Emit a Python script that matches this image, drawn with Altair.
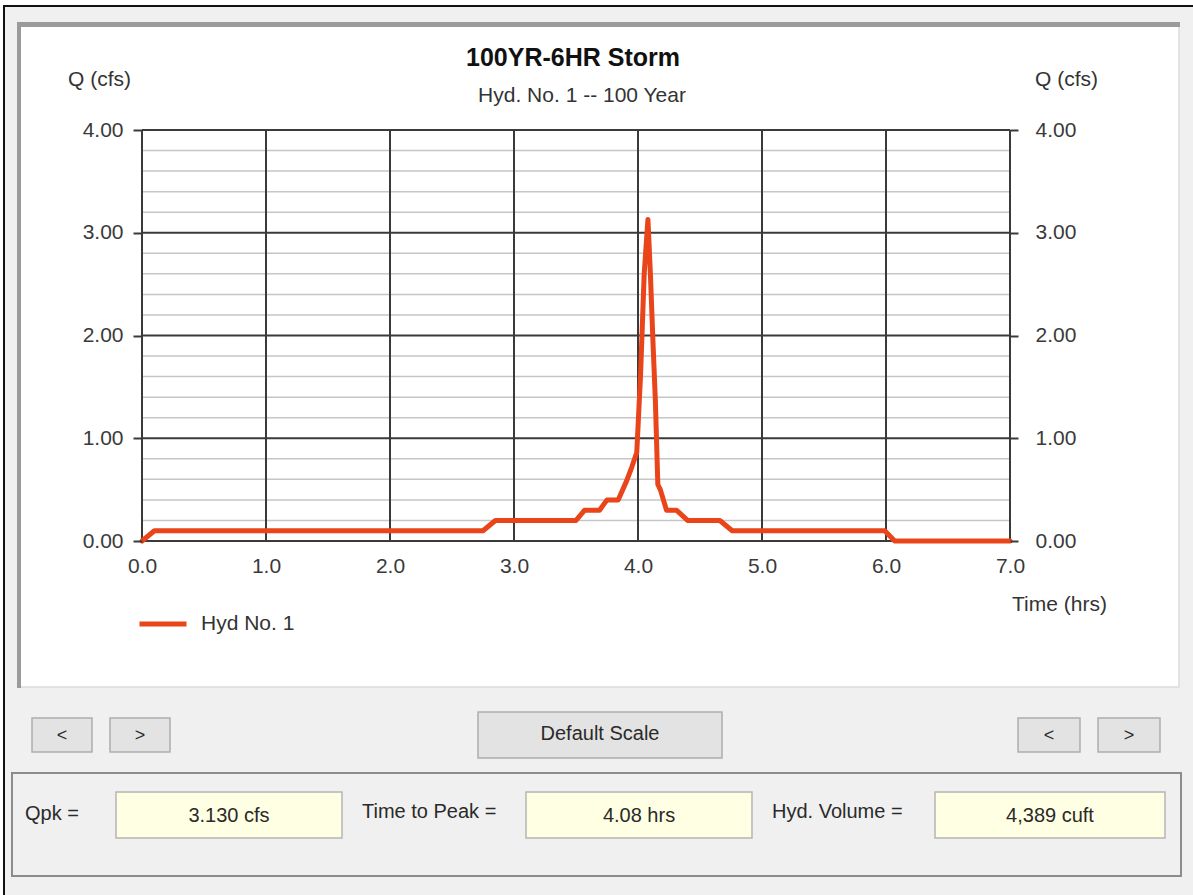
import altair as alt
import pandas as pd

# Hydrograph ordinates (time in hours, flow in cfs)
time_hrs = [0.00, 0.10, 2.75, 2.85, 3.50, 3.57, 3.69, 3.75, 3.84, 3.91, 3.95, 3.99,
            4.02, 4.05, 4.08, 4.10, 4.12, 4.14, 4.16, 4.18, 4.23, 4.31, 4.40, 4.66,
            4.76, 5.99, 6.07, 7.00]
flow_cfs = [0.00, 0.10, 0.10, 0.20, 0.20, 0.30, 0.30, 0.40, 0.40, 0.59, 0.72, 0.86,
            1.60, 2.60, 3.13, 2.60, 1.96, 1.37, 0.55, 0.50, 0.30, 0.30, 0.20, 0.20,
            0.10, 0.10, 0.00, 0.00]
series_name = "Hyd No. 1"

# Axis tick values
time_ticks = [0, 1, 2, 3, 4, 5, 6, 7]
flow_major = [0, 1, 2, 3, 4]
flow_minor = [0.2, 0.4, 0.6, 0.8, 1.2, 1.4, 1.6, 1.8, 2.2, 2.4, 2.6, 2.8,
              3.2, 3.4, 3.6, 3.8]

# Summary read-outs
summary_labels = ["Qpk =", "Time to Peak =", "Hyd. Volume ="]
summary_values = ["3.130 cfs", "4.08 hrs", "4,389 cuft"]

FONT = "Liberation Sans"
LINE_COLOR = "#E9441A"
W, H = 868, 411          # plot area
OX, OY = 142, 130        # plot origin on the page

xscale = alt.Scale(domain=[0, 7], nice=False, zero=False)
yscale = alt.Scale(domain=[0, 4], nice=False, zero=False)

one = alt.Data(values=[{"k": 0}])


def box(x1, y1, x2, y2, **kw):
    return alt.Chart(one).mark_rect(**kw).encode(
        x=alt.value(x1 - OX), x2=alt.value(x2 - OX),
        y=alt.value(y1 - OY), y2=alt.value(y2 - OY))


def label(txt, x, y, **kw):
    opts = dict(font=FONT, fontSize=21, color="#2a2a2a", baseline="middle")
    opts.update(kw)
    return alt.Chart(one).mark_text(text=txt, **opts).encode(
        x=alt.value(x - OX), y=alt.value(y - OY))


# Window frame and panels
frame = [
    box(4, 6, 1200, 900, fill="#f0f0f0", stroke="#111111", strokeWidth=2),
    box(19, 24, 1179, 687, fill="#ffffff", stroke="#dcdcdc", strokeWidth=1.5),
    box(17, 22, 1180, 27, fill="#9a9a9a"),
    box(17, 22, 21, 688, fill="#9a9a9a"),
    # buttons
    box(32, 718, 92, 752, fill="#e3e3e3", stroke="#adadad", strokeWidth=1.5),
    box(110, 718, 170, 752, fill="#e3e3e3", stroke="#adadad", strokeWidth=1.5),
    box(478, 712, 722, 758, fill="#e3e3e3", stroke="#adadad", strokeWidth=1.5),
    box(1018, 718, 1080, 752, fill="#e3e3e3", stroke="#adadad", strokeWidth=1.5),
    box(1098, 718, 1160, 752, fill="#e3e3e3", stroke="#adadad", strokeWidth=1.5),
    # summary group box
    box(12, 773, 1181, 876, fill="#f0f0f0", stroke="#8c8c8c", strokeWidth=2),
    box(116, 792, 342, 838, fill="#ffffe3", stroke="#b5b5b5", strokeWidth=1.5),
    box(526, 792, 752, 838, fill="#ffffe3", stroke="#b5b5b5", strokeWidth=1.5),
    box(935, 792, 1165, 838, fill="#ffffe3", stroke="#b5b5b5", strokeWidth=1.5),
]

texts = [
    label("100YR-6HR Storm", 573, 58, fontSize=25, fontWeight="bold",
          color="#111111", align="center"),
    label("Hyd. No. 1 -- 100 Year", 582, 96, fontSize=21, align="center",
          color="#333333"),
    label("Q (cfs)", 68, 80, align="left", fontSize=21, color="#333333"),
    label("Q (cfs)", 1035, 80, align="left", fontSize=21, color="#333333"),
    label("Time (hrs)", 1012, 605, align="left", fontSize=21, color="#333333"),
    label("<", 62, 736, align="center", fontSize=18),
    label(">", 140, 736, align="center", fontSize=18),
    label("Default Scale", 600, 734, align="center", fontSize=20),
    label("<", 1049, 736, align="center", fontSize=18),
    label(">", 1129, 736, align="center", fontSize=18),
    label(summary_labels[0], 25, 814, align="left", fontSize=20),
    label(summary_labels[1], 362, 812, align="left", fontSize=20),
    label(summary_labels[2], 772, 812, align="left", fontSize=20),
    label(summary_values[0], 229, 816, align="center", fontSize=20),
    label(summary_values[1], 639, 816, align="center", fontSize=20),
    label(summary_values[2], 1050, 816, align="center", fontSize=20),
]

time_axis = alt.Axis(values=time_ticks, format=".1f", title=None,
                     grid=False, domain=False, ticks=False, zindex=1,
                     labelFlush=False, labelPadding=14, labelFont=FONT,
                     labelFontSize=21, labelColor="#3a3a3a")

# Grid lines
minor_grid = alt.Chart(pd.DataFrame({"q": flow_minor})).mark_rule(
    color="#c6c6c6", strokeWidth=1.5).encode(
    y=alt.Y("q:Q", scale=yscale, axis=None))

major_grid = alt.Chart(pd.DataFrame({"q": flow_major})).mark_rule(
    color="#3a3a3a", strokeWidth=2).encode(
    y=alt.Y("q:Q", scale=yscale,
            axis=alt.Axis(orient="right", values=flow_major, format=".2f",
                          title=None, grid=False, domain=False, zindex=1,
                          tickSize=8, tickWidth=2, tickColor="#3a3a3a",
                          labelFlush=False, labelPadding=17, labelFont=FONT,
                          labelFontSize=21, labelColor="#3a3a3a")))

vert_grid = alt.Chart(pd.DataFrame({"t": time_ticks})).mark_rule(
    color="#3a3a3a", strokeWidth=2).encode(
    x=alt.X("t:Q", scale=xscale, axis=time_axis))

hydro = alt.Chart(pd.DataFrame({"t": time_hrs, "q": flow_cfs,
                                "s": [series_name] * len(time_hrs)})).mark_line(
    strokeWidth=5, strokeJoin="round", strokeCap="round").encode(
    x=alt.X("t:Q", scale=xscale, axis=time_axis),
    y=alt.Y("q:Q", scale=yscale,
            axis=alt.Axis(orient="left", values=flow_major, format=".2f",
                          title=None, grid=False, domain=False, zindex=1,
                          tickSize=9, tickWidth=2, tickColor="#3a3a3a",
                          labelFlush=False, labelPadding=10, labelFont=FONT,
                          labelFontSize=21, labelColor="#3a3a3a")),
    color=alt.Color("s:N", scale=alt.Scale(range=[LINE_COLOR]),
                    legend=alt.Legend(title=None, orient="none",
                                      legendX=-5, legendY=468, zindex=1,
                                      symbolType="stroke", symbolSize=2209,
                                      symbolStrokeWidth=5, padding=0,
                                      labelFont=FONT, labelFontSize=21,
                                      labelColor="#333333", labelOffset=12)),
    order=alt.Order("t:Q"),
)

chart = alt.layer(
    *frame, minor_grid, vert_grid, major_grid, hydro, *texts
).resolve_axis(y="independent").properties(
    width=W, height=H,
    padding={"left": OX, "top": OY, "right": 1193 - OX - W, "bottom": 895 - OY - H},
    autosize=alt.AutoSizeParams(type="none"),
    background="#ffffff",
).configure_view(stroke=None)

chart.save("out.html", embed_options={"renderer": "svg", "actions": False})
